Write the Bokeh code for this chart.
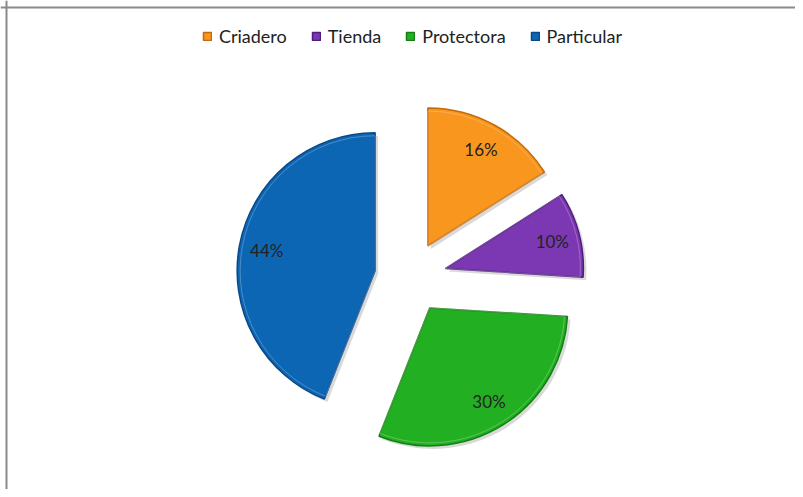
import math
from bokeh.plotting import figure
from bokeh.models import ColumnDataSource, Range1d, Span, Legend, LegendItem
from bokeh.core.properties import value
from bokeh.embed import file_html
from bokeh.resources import INLINE

# ---- data ----
categories = ["Criadero", "Tienda", "Protectora", "Particular"]
shares = [16, 10, 30, 44]
labels = ["16%", "10%", "30%", "44%"]
colors = ["#F8961E", "#7B38B2", "#22B022", "#0D66B4"]
edge_colors = ["#C46A08", "#4F1E7C", "#148014", "#07498A"]

# ---- layout (canvas pixels as data units) ----
W, H = 795, 489
cx, cy = 410, 212        # pie centre
R = 138                  # radius
EXPLODE = 36             # explode distance
LABEL_R = 0.8 * R

total = float(sum(shares))
xs, ys, starts, ends, lx, ly = [], [], [], [], [], []
acc = 0.0
for s in shares:
    a0 = acc / total * 360.0           # clockwise from 12 o'clock
    a1 = (acc + s) / total * 360.0
    mid = (a0 + a1) / 2.0
    dx = math.sin(math.radians(mid))
    dy = math.cos(math.radians(mid))
    px, py = cx + EXPLODE * dx, cy + EXPLODE * dy
    xs.append(px)
    ys.append(py)
    starts.append(math.radians(90 - a1))
    ends.append(math.radians(90 - a0))
    lx.append(px + LABEL_R * dx)
    ly.append(py + LABEL_R * dy)
    acc += s

src = ColumnDataSource(dict(x=xs, y=ys, start=starts, end=ends, color=colors,
                            edge=edge_colors, cat=categories, label=labels,
                            lx=lx, ly=ly,
                            sx=[v + 3 for v in xs], sy=[v - 3 for v in ys]))

p = figure(width=W, height=H, output_backend="svg", toolbar_location=None,
           x_range=Range1d(0, W), y_range=Range1d(0, H), min_border=0,
           background_fill_color="white", border_fill_color="white")
p.axis.visible = False
p.grid.visible = False
p.outline_line_color = None

# shadow
p.wedge(x="sx", y="sy", radius=R, start_angle="start", end_angle="end",
        source=src, fill_color="#000000", fill_alpha=0.15, line_color=None)

main = p.wedge(x="x", y="y", radius=R, start_angle="start", end_angle="end",
               source=src, fill_color="color", line_color="edge", line_width=1.5)

# highlight inset
p.wedge(x="x", y="y", radius=R - 3, start_angle="start", end_angle="end",
        source=src, fill_color=None, line_color="white", line_alpha=0.25,
        line_width=1)

p.text(x="lx", y="ly", text="label", source=src, text_align="center",
       text_baseline="middle", text_font=value("Lato"), text_font_size="17px",
       text_color="#222222")

legend = Legend(items=[LegendItem(label=categories[i], renderers=[main], index=i)
                       for i in range(len(categories))],
                orientation="horizontal", location=(202, 442),
                label_text_font="Lato", label_text_font_size="18px",
                label_text_color="#222222", glyph_width=10, glyph_height=10,
                label_standoff=7, spacing=24, padding=4, margin=0,
                border_line_color=None, background_fill_alpha=0)
p.add_layout(legend, "center")

# chart border (top and left visible)
p.add_layout(Span(location=6, dimension="height", line_color="#8a8a8a", line_width=2))
p.add_layout(Span(location=H - 7, dimension="width", line_color="#8a8a8a", line_width=2))

open("out.html", "w").write(file_html(p, INLINE))
